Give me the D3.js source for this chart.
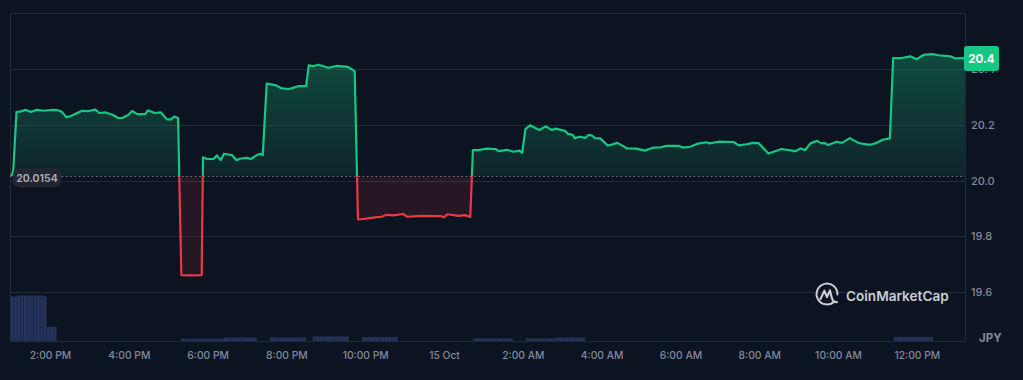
<!DOCTYPE html>
<html>
<head>
<meta charset="utf-8">
<script src="https://d3js.org/d3.v7.min.js"></script>
<style>
    html, body { margin: 0; padding: 0; background: #0d1421; overflow: hidden; }
    text { font-family: Inter, "Noto Sans", sans-serif; }
</style>
</head>
<body>
<div id="chart"></div>
<script>
// minutes since midnight 14 Oct
const priceTimes = [781,784,789,794,803,811,820,831,843,852,858,865,872,878,889,899,909,915,925,936,944,950,959,965,973,985,989,1000,1009,1018,1024,1029,1035,
    1040,1053,1071,1073,1079,1089,1094,1100,1105,1117,1124,1129,1140,1146,1155,1160,1164,1170,1183,1193,1204,1211,1218,1230,1234,1241,1249,1264,1277,1294,1304,
    1309,1317,1335,1345,1353,1363,1378,1384,1403,1436,1440,1445,1462,1472,1480,1484,1492,1505,1518,1524,1536,1546,1555,1559,1564,1571,1585,1595,1604,1610,1624,
    1629,1636,1639,1647,1655,1660,1665,1670,1678,1689,1695,1704,1719,1733,1746,1759,1770,1779,1798,1804,1815,1825,1840,1844,1858,1881,1889,1901,1911,1919,1934,
    1954,1975,1983,1990,1998,2008,2015,2019,2025,2038,2046,2058,2071,2079,2089,2099,2108,2119,2124,2137,2150,2160,2170,2184,2193,2211,2218,2233];
const priceValues = [20.016,20.034,20.246,20.247,20.253,20.246,20.253,20.25,20.253,20.252,20.246,20.227,20.231,20.238,20.25,20.249,20.254,20.242,20.244,20.235,20.224,20.224,20.235,20.249,20.238,20.238,20.251,20.242,20.244,20.219,20.219,20.229,20.224,
    19.661,19.66,19.661,20.083,20.077,20.077,20.09,20.073,20.096,20.091,20.073,20.078,20.081,20.077,20.091,20.096,20.091,20.347,20.342,20.33,20.328,20.333,20.338,20.338,20.413,20.41,20.415,20.404,20.411,20.407,20.392,
    19.861,19.862,19.868,19.87,19.877,19.875,19.88,19.87,19.873,19.872,19.868,19.879,19.873,19.876,19.869,20.109,20.109,20.114,20.113,20.105,20.11,20.103,20.107,20.099,20.184,20.198,20.181,20.194,20.181,20.186,20.178,
    20.167,20.164,20.152,20.157,20.153,20.163,20.162,20.152,20.151,20.126,20.128,20.135,20.115,20.114,20.107,20.118,20.119,20.124,20.124,20.118,20.121,20.131,20.137,20.133,20.139,20.138,20.126,20.13,20.135,20.134,20.097,
    20.113,20.105,20.115,20.109,20.133,20.142,20.133,20.135,20.127,20.139,20.135,20.152,20.135,20.131,20.128,20.135,20.146,20.151,20.439,20.439,20.445,20.435,20.45,20.453,20.449,20.445,20.438,20.439];

const volumeTimes = [780,785,790,795,800,805,810,815,820,825,830,835,840,845,
    1040,1045,1050,1055,1060,1065,1070,1075,1080,1085,1090,1095,1100,1105,1110,1115,1120,1125,1130,1135,1140,1145,1150,
    1175,1180,1185,1190,1195,1200,1205,1210,1215,1220,1225,
    1240,1245,1250,1255,1260,1265,1270,1275,1280,1285,1290,
    1315,1320,1325,1330,1335,1340,1345,1350,1355,1360,1365,
    1485,1490,1495,1500,1505,1510,1515,1520,1525,1530,1535,1540,
    1565,1570,1575,1580,1585,1590,1595,1600,1605,1610,1615,1620,1625,1630,1635,1640,1645,1650,
    2125,2130,2135,2140,2145,2150,2155,2160,2165,2170,2175,2180];
const volumeValues = [97,97,99,99,99,99,99,99,99,99,97,31,31,31,
    5,5,5,5,5,5,5,5,5,5,5,5,5,8,8,8,8,8,8,8,8,8,8,
    8,8,8,8,8,8,8,8,8,8,8,
    10,10,10,10,10,10,10,10,10,10,10,
    9,9,9,9,9,9,9,9,9,9,9,
    6,6,6,6,6,6,6,6,6,6,6,6,
    6,6,6,6,6,6,6,6,6,8,8,8,8,8,8,8,8,8,
    9,9,9,9,9,9,9,9,9,9,9,9];

const xTickTimes = [840,960,1080,1200,1320,1440,1560,1680,1800,1920,2040,2160];
const xTickLabels = ["2:00 PM","4:00 PM","6:00 PM","8:00 PM","10:00 PM","15 Oct","2:00 AM","4:00 AM","6:00 AM","8:00 AM","10:00 AM","12:00 PM"];
const yTicks = [19.6,19.8,20.0,20.2,20.4];
const openPrice = 20.0154;
const lastPriceLabel = "20.4";
const currency = "JPY";

const width = 1023;
const height = 380;
const margin = {top: 13, right: 58, bottom: 39, left: 10};
const plotRight = width - margin.right;
const plotBottom = height - margin.bottom;

const green = "#16c784";
const red = "#ea3943";
const gridColor = "#222b39";
const labelColor = "#808a9d";

const svg = d3.select("#chart")
    .append("svg")
    .attr("width", width)
    .attr("height", height)
    .style("display", "block");

const xScale = d3.scaleLinear().domain([780.6, 2233.4]).range([margin.left + 1, plotRight]);
const yScale = d3.scaleLinear().domain([19.4247, 20.6004]).range([plotBottom, margin.top]);
const volScale = d3.scaleLinear().domain([0, 100]).range([plotBottom, plotBottom - 46]);

const data = priceTimes.map((t, i) => ({t: t, v: priceValues[i]}));
const baseY = yScale(openPrice);

const defs = svg.append("defs");

const grad = defs.append("linearGradient")
    .attr("id", "upFill")
    .attr("gradientUnits", "userSpaceOnUse")
    .attr("x1", 0).attr("x2", 0)
    .attr("y1", yScale(20.45)).attr("y2", baseY);
grad.append("stop").attr("offset", 0).attr("stop-color", green).attr("stop-opacity", 0.3);
grad.append("stop").attr("offset", 1).attr("stop-color", green).attr("stop-opacity", 0.1);

defs.append("clipPath").attr("id", "clipUp")
    .append("rect")
    .attr("x", 0).attr("y", 0)
    .attr("width", width).attr("height", baseY);
defs.append("clipPath").attr("id", "clipDown")
    .append("rect")
    .attr("x", 0).attr("y", baseY)
    .attr("width", width).attr("height", height - baseY);

// grid and frame
svg.append("g")
    .attr("class", "y-grid")
    .selectAll("line")
    .data(yTicks)
    .enter()
    .append("line")
    .attr("x1", margin.left)
    .attr("x2", plotRight)
    .attr("y1", d => Math.round(yScale(d)) + 0.5)
    .attr("y2", d => Math.round(yScale(d)) + 0.5)
    .attr("stroke", gridColor);

svg.append("rect")
    .attr("x", margin.left + 0.5)
    .attr("y", margin.top + 0.5)
    .attr("width", plotRight - margin.left)
    .attr("height", plotBottom - margin.top)
    .attr("fill", "none")
    .attr("stroke", gridColor);

// volume
svg.append("g")
    .attr("class", "volume")
    .selectAll("rect")
    .data(volumeTimes)
    .enter()
    .append("rect")
    .attr("x", d => xScale(d))
    .attr("width", xScale(5) - xScale(0))
    .attr("y", (d, i) => volScale(volumeValues[i]))
    .attr("height", (d, i) => plotBottom - volScale(volumeValues[i]))
    .attr("fill", "#2c3b69")
    .attr("fill-opacity", 0.82)
    .attr("stroke", "#0d1421")
    .attr("stroke-opacity", 0.25)
    .attr("stroke-width", 0.4);

// price area + line, split at the opening price
const area = d3.area()
    .x(d => xScale(d.t))
    .y0(baseY)
    .y1(d => yScale(d.v));
const line = d3.line()
    .x(d => xScale(d.t))
    .y(d => yScale(d.v));

svg.append("path")
    .attr("d", area(data))
    .attr("fill", "url(#upFill)")
    .attr("clip-path", "url(#clipUp)");
svg.append("path")
    .attr("d", area(data))
    .attr("fill", red)
    .attr("fill-opacity", 0.11)
    .attr("clip-path", "url(#clipDown)");
svg.append("path")
    .attr("d", line(data))
    .attr("fill", "none")
    .attr("stroke", green)
    .attr("stroke-width", 2.2)
    .attr("stroke-linejoin", "round")
    .attr("clip-path", "url(#clipUp)");
svg.append("path")
    .attr("d", line(data))
    .attr("fill", "none")
    .attr("stroke", red)
    .attr("stroke-width", 2.2)
    .attr("stroke-linejoin", "round")
    .attr("clip-path", "url(#clipDown)");

// dotted opening price line
svg.append("line")
    .attr("x1", margin.left)
    .attr("x2", plotRight)
    .attr("y1", Math.round(baseY) + 0.5)
    .attr("y2", Math.round(baseY) + 0.5)
    .attr("stroke", "#a1a7bb")
    .attr("stroke-opacity", 0.7)
    .attr("stroke-width", 1)
    .attr("stroke-dasharray", "1.5 2.8");

// axes
const xAxis = d3.axisBottom(xScale)
    .tickValues(xTickTimes)
    .tickFormat((d, i) => xTickLabels[i])
    .tickSize(0)
    .tickPadding(11);
const gx = svg.append("g")
    .attr("class", "x-axis")
    .attr("transform", "translate(0," + plotBottom + ")")
    .call(xAxis);

const yAxis = d3.axisRight(yScale)
    .tickValues(yTicks)
    .tickFormat(d3.format(".1f"))
    .tickSize(0)
    .tickPadding(6);
const gy = svg.append("g")
    .attr("class", "y-axis")
    .attr("transform", "translate(" + plotRight + ",0)")
    .call(yAxis);

gx.select(".domain").remove();
gy.select(".domain").remove();
svg.selectAll(".x-axis text, .y-axis text")
    .attr("fill", labelColor)
    .style("font-family", "Inter, 'Noto Sans', sans-serif")
    .style("font-size", "11px")
    .style("font-weight", 500);
svg.selectAll(".x-axis text")
    .style("font-size", "10.3px");

svg.append("text")
    .attr("x", 979)
    .attr("y", 342)
    .attr("fill", labelColor)
    .style("font-size", "11.5px")
    .style("font-weight", 700)
    .text(currency);

// opening price pill
svg.append("rect")
    .attr("x", 13).attr("y", baseY - 8)
    .attr("width", 48).attr("height", 19)
    .attr("rx", 6)
    .attr("fill", "#23262f");
svg.append("text")
    .attr("x", 37).attr("y", baseY + 5.5)
    .attr("text-anchor", "middle")
    .attr("fill", "#a6b0c3")
    .style("font-size", "10.6px")
    .style("font-weight", 600)
    .text(openPrice);

// last price pill
const lastY = yScale(priceValues[priceValues.length - 1]);
svg.append("rect")
    .attr("x", 964).attr("y", lastY - 12)
    .attr("width", 35).attr("height", 25)
    .attr("rx", 3)
    .attr("fill", green);
svg.append("text")
    .attr("x", 981.5).attr("y", lastY + 4.5)
    .attr("text-anchor", "middle")
    .attr("fill", "#ffffff")
    .style("font-size", "11.5px")
    .style("font-weight", 700)
    .text(lastPriceLabel);

// watermark
const logo = svg.append("g")
    .attr("transform", "translate(827,294)")
    .attr("fill", "none")
    .attr("stroke", "#c9ced6")
    .attr("stroke-linecap", "round")
    .attr("stroke-linejoin", "round");
logo.append("path")
    .attr("d", "M7.5 7.2A10.4 10.4 0 1 1 10.4 0.5")
    .attr("stroke-width", 2);
logo.append("path")
    .attr("d", "M-6.5 5L-2.6 -3.4L0 3.2L3 -3.6Q4.6 3.6 5.8 6.4Q7.4 9 10 8")
    .attr("stroke-width", 2.1);
svg.append("text")
    .attr("x", 846)
    .attr("y", 300.5)
    .attr("fill", "#c9ced6")
    .style("font-size", "13.6px")
    .style("font-weight", 600)
    .text("CoinMarketCap");
</script>
</body>
</html>
